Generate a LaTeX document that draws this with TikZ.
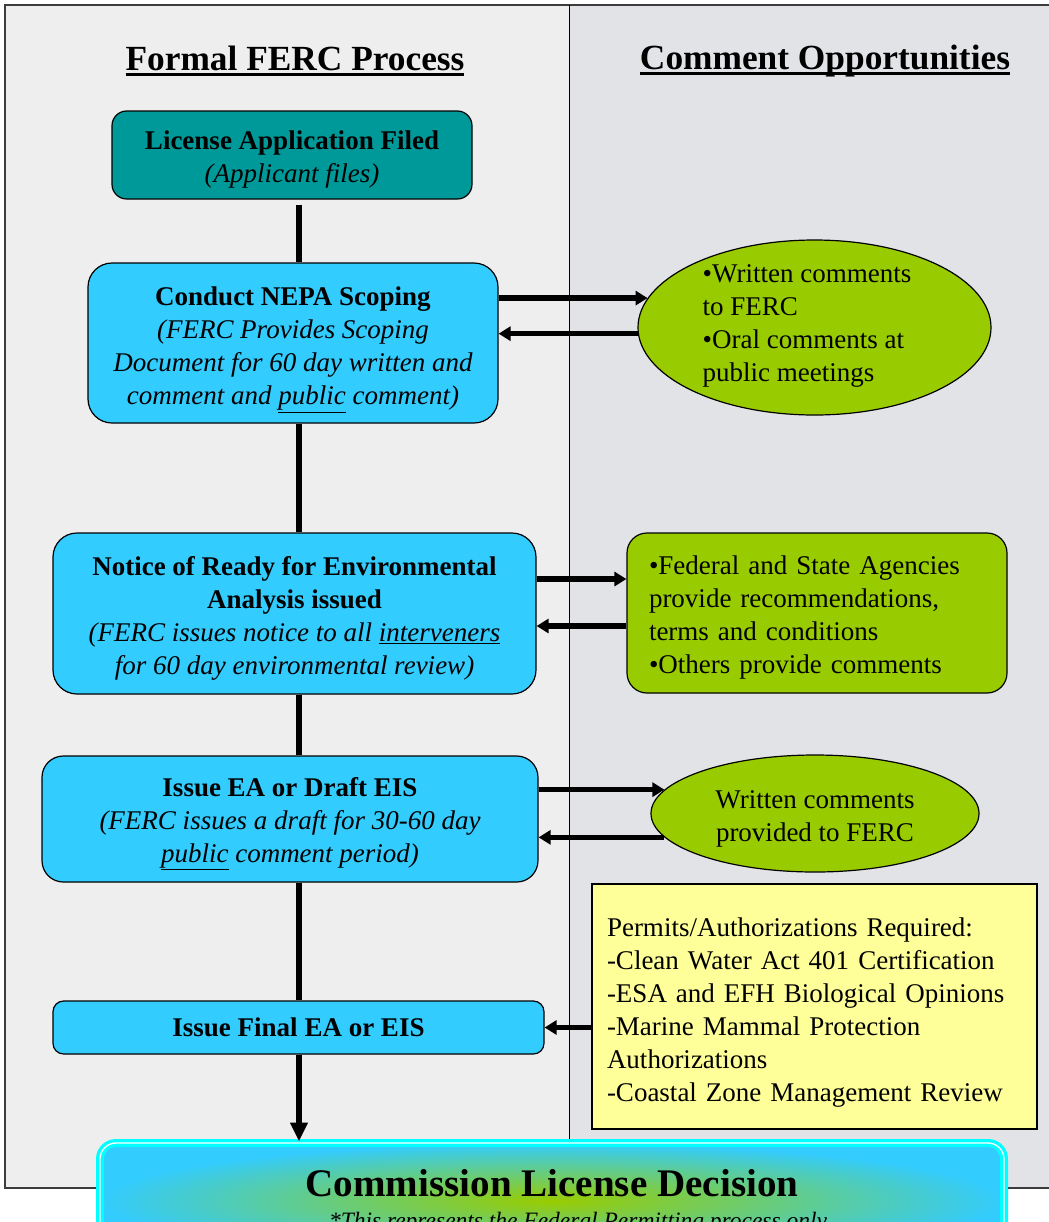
\documentclass[tikz,border=0pt]{standalone}
\usepackage{fontspec}
\setmainfont{Liberation Serif}
\usetikzlibrary{arrows.meta}
\usetikzlibrary{shapes.geometric}
\definecolor{procblue}{RGB}{51,204,255}
\definecolor{fileteal}{RGB}{0,153,153}
\definecolor{cmtgreen}{RGB}{153,204,0}
\definecolor{permyellow}{RGB}{255,255,153}
\definecolor{glowcyan}{RGB}{0,255,255}
\definecolor{leftbg}{RGB}{238,238,238}
\definecolor{rightbg}{RGB}{226,227,231}
\definecolor{framegray}{RGB}{60,60,60}
\newcommand{\bodysize}{\fontsize{20.25}{24.75}\selectfont}
\newcommand{\titleul}[1]{\setbox0=\hbox{#1}\rlap{\rule[-4pt]{\wd0}{2.25pt}}\box0}
\newcommand{\firstln}[1][21.5pt]{\rule{0pt}{#1}}

\begin{document}
\begin{tikzpicture}[x=0.75pt,y=0.75pt,yscale=-1,xscale=1,
	procbox/.style={draw=black, line width=0.9pt, fill=procblue, align=center, inner sep=0pt, font=\bodysize},
	cmtbox/.style={draw=black, line width=0.9pt, fill=cmtgreen, inner sep=0pt, font=\bodysize},
	cmttext/.style={align=left, inner sep=0pt, font=\bodysize},
	headtext/.style={inner sep=0pt, font=\fontsize{26.5}{30}\selectfont\bfseries},
	flow/.style={line width=4pt, -{Triangle[length=9pt,width=10.5pt]}},
	spineline/.style={line width=4.5pt}]
	\useasboundingbox (0,0) rectangle (1049,1222);
	\clip (0,0) rectangle (1049,1222);

	%Shape: panels
	\fill[white] (0,0) rectangle (1049,1222);
	\fill[leftbg] (5,5) rectangle (569,1188);
	\fill[rightbg] (569,5) rectangle (1049,1188);
	\draw[line width=0.9pt, draw=framegray] (1060,5) -- (5,5) -- (5,1188) -- (1060,1188);
	\draw[line width=0.75pt] (569,5) -- (569,1188);

	% Text Node
	\node[headtext] (formalhd) at (295,61) {\titleul{Formal FERC Process}};
	% Text Node
	\node[headtext] (commenthd) at (825,61) {\titleul{Comment Opportunities}};

	%Shape: process boxes
	\node[procbox, fill=fileteal, rounded corners=11pt, minimum width=270pt, minimum height=66pt] (filed) at (292,155) {\firstln\textbf{License Application Filed}\\\textit{(Applicant files)}};
	\node[procbox, rounded corners=18pt, minimum width=307.5pt, minimum height=120pt] (scoping) at (293,343) {\firstln[25pt]\textbf{Conduct NEPA Scoping}\\\textit{(FERC Provides Scoping}\\\textit{Document for 60 day written and}\\\textit{comment and \underline{public} comment)}};
	\node[procbox, rounded corners=18pt, minimum width=362.25pt, minimum height=120.75pt] (notice) at (294.5,613.5) {\firstln\textbf{Notice of Ready for Environmental}\\\textbf{Analysis issued}\\\textit{(FERC issues notice to all \underline{interveners}}\\\textit{for 60 day environmental review)}};
	\node[procbox, rounded corners=16pt, minimum width=372pt, minimum height=94.5pt] (draft) at (290,819) {\firstln\textbf{Issue EA or Draft EIS}\\\textit{(FERC issues a draft for 30-60 day}\\\textit{\underline{public} comment period)}};
	\node[procbox, rounded corners=8pt, minimum width=368.25pt, minimum height=39.75pt] (finalea) at (298.5,1027.5) {\textbf{Issue Final EA or EIS}};

	%Shape: decision
	\node[draw=glowcyan, line width=2.5pt, double=white, double distance=1pt, rounded corners=12pt, shading=radial, inner color=cmtgreen, outer color=procblue, minimum width=678pt, minimum height=87pt, align=center, inner sep=0pt, font=\fontsize{29.3}{24}\selectfont\bfseries] (decision) at (552,1201) {Commission License Decision\\{\fontsize{17.6}{20}\selectfont\mdseries\itshape\hspace*{39pt}*This represents the Federal Permitting process only}};

	%Shape: comment opportunities
	\node[cmtbox, shape=ellipse, minimum width=264.75pt, minimum height=131.25pt] (written) at (814.5,327.5) {};
	\node[cmttext] (writtentxt) at (807,326) {•Written comments\\to FERC\\•Oral comments at\\public meetings};
	\node[cmtbox, rounded corners=15pt, minimum width=285pt, minimum height=120pt, text width=252pt, align=left] (agencies) at (817,613) {\firstln•Federal and State Agencies\\provide recommendations,\\terms and conditions\\•Others provide comments};
	\node[cmtbox, shape=ellipse, minimum width=246pt, minimum height=87.75pt, align=center] (provided) at (815,813.5) {\firstln Written comments\\provided to FERC};
	\node[draw=black, line width=0.9pt, fill=permyellow, minimum width=333.75pt, minimum height=183.75pt, text width=311.25pt, inner sep=0pt, align=left, font=\bodysize] (permits) at (814.5,1006.5) {\firstln[23pt]Permits/Authorizations Required:\\-Clean Water Act 401 Certification\\-ESA and EFH Biological Opinions\\-Marine Mammal Protection\\Authorizations\\-Coastal Zone Management Review};

	% spine
	\coordinate (spine) at (299,0);
	\draw[spineline, shorten <=4pt] (filed.south -| spine) -- (scoping.north -| spine);
	\draw[spineline] (scoping.south -| spine) -- (notice.north -| spine);
	\draw[spineline] (notice.south -| spine) -- (draft.north -| spine);
	\draw[spineline] (draft.south -| spine) -- (finalea.north -| spine);
	\draw[spineline, -{Triangle[length=14pt,width=12.5pt]}] (finalea.south -| spine) -- (decision.north -| spine);

	% comment arrows
	\draw[flow] (scoping.east |- written.170) -- (written.170);
	\draw[flow] (written.182) -- (scoping.east |- written.182);
	\draw[flow] (notice.east |- 0,579) -- (agencies.west |- 0,579);
	\draw[flow] (agencies.west |- 0,626) -- (notice.east |- 0,626);
	\draw[flow] (draft.east |- provided.171) -- (provided.171);
	\draw[flow] (provided.189) -- (draft.east |- provided.189);
	\draw[flow] (permits.west |- finalea.east) -- (finalea.east);

\end{tikzpicture}
\end{document}
